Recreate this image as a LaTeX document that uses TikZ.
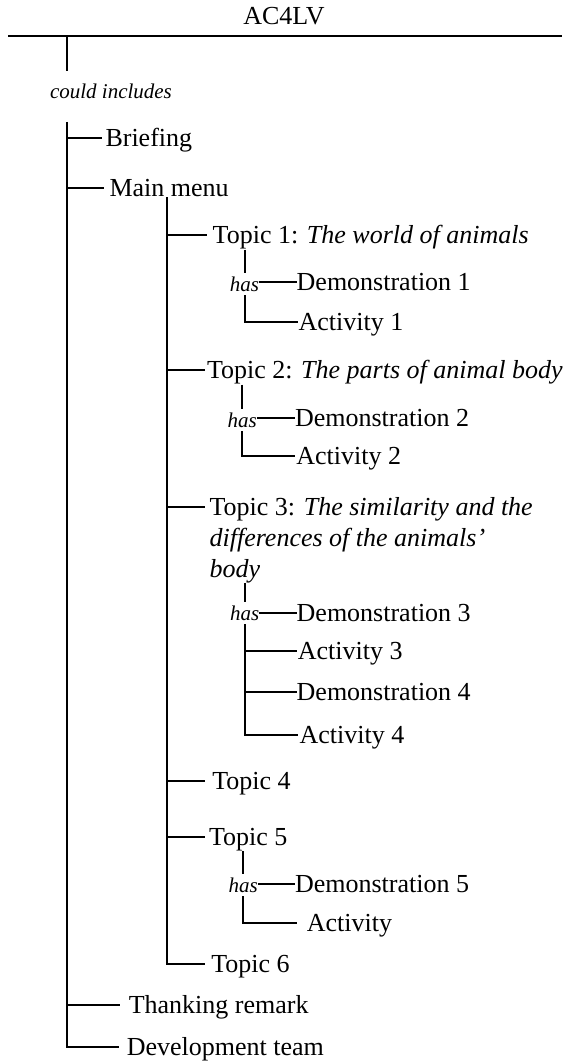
\documentclass[tikz,border=0pt]{standalone}
\usepackage{fontspec}
\setmainfont{Liberation Serif}
\begin{document}
\begin{tikzpicture}[x=1pt,y=-1pt,line width=2pt,
  every node/.style={inner sep=0pt,font=\fontsize{26}{30.7}\selectfont},
  entry/.style={anchor=west,text height=17pt,text depth=0pt,outer ysep=6pt,outer xsep=#1},
  entry/.default=0pt,
  hasrel/.style={font=\fontsize{21}{25}\selectfont\itshape,text height=14pt,text depth=0pt,outer ysep=4pt,outer xsep=0pt}]
\useasboundingbox (0,0) rectangle (569,1062);

% heading and rule
\node (title) [anchor=base] at (284,25) {AC4LV};
\coordinate (ruleL) at (8,36);
\coordinate (ruleR) at (562,36);
\draw (ruleL) -- (ruleR);
\coordinate (drop) at (67,36);
\coordinate (dropend) at (67,71);
\draw (drop) -- (dropend);
\node (could) [anchor=base west,font=\fontsize{21}{25}\selectfont\itshape] at (49,99) {could includes};

% first level
\coordinate (trunk) at (67,122);
\node (brief) [entry=3.5pt] at (102,138) {Briefing};
\node (menu)  [entry=5.5pt] at (104,188) {Main menu};
\node (thank) [entry=8.8pt] at (120,1005) {Thanking remark};
\node (devt)  [entry=7.5pt] at (119.3,1047.3) {Development team};
\draw (trunk) |- (devt.west);
\foreach \n in {brief,menu,thank} \draw (trunk |- \n.west) -- (\n.west);

% topics under the main menu
\coordinate (branch) at (167,197);
\node (t1) [entry=6pt] at (206.7,235) {Topic 1: \textit{The world of animals}};
\node (t2) [entry=2pt] at (205,370) {Topic 2: \textit{The parts of animal body}};
\node (t3) [anchor=north west,align=left,outer ysep=0pt,outer xsep=4.6pt] at (205,497.7)
  {Topic 3: \textit{The similarity and the}\\\textit{differences of the animals’}\\\textit{body}};
\path ([yshift=-9.3pt]t3.north west) coordinate (t3b);
\node (t4) [entry=7.3pt] at (205,780.7) {Topic 4};
\node (t5) [entry=4pt] at (205,836.7) {Topic 5};
\node (t6) [entry=6.3pt] at (205,964) {Topic 6};
\draw (branch) |- (t6.west);
\foreach \n in {t1,t2,t4,t5} \draw (branch |- \n.west) -- (\n.west);
\draw (branch |- t3b) -- (t3b);

% topic 1
\node (has1) [hasrel] at (244.5,284) {has};
\node (d1) [entry=0pt] at (296.7,281.7) {Demonstration 1};
\node (a1) [entry=0.3pt] at (298.3,321.7) {Activity 1};
\draw (has1.north |- t1.south) -- (has1.north);
\draw (has1.east |- d1.west) -- (d1.west);
\draw (has1.south) |- (a1.west);

% topic 2
\node (has2) [hasrel] at (242.3,420) {has};
\node (d2) [entry=0pt] at (295,418.3) {Demonstration 2};
\node (a2) [entry=1.3pt] at (295,456) {Activity 2};
\draw (has2.north |- t2.south) -- (has2.north);
\draw (has2.east |- d2.west) -- (d2.west);
\draw (has2.south) |- (a2.west);

% topic 3
\node (has3) [hasrel] at (244.6,613.3) {has};
\node (d3) [entry=0pt] at (296.7,613.3) {Demonstration 3};
\node (a3) [entry=1.2pt] at (296.7,650.7) {Activity 3};
\node (d4) [entry=0pt] at (296.7,691.7) {Demonstration 4};
\node (a4) [entry=1.6pt] at (298,735) {Activity 4};
\draw (has3.north |- t3.south) -- (has3.north);
\draw (has3.east |- d3.west) -- (d3.west);
\draw (has3.south) |- (a4.west);
\foreach \n in {a3,d4} \draw (has3.south |- \n.west) -- (\n.west);

% topic 5
\node (has5) [hasrel] at (243.3,885) {has};
\node (d5) [entry=0pt] at (295,884) {Demonstration 5};
\node (a5) [entry=10.2pt] at (296.7,922.7) {Activity};
\draw (has5.north |- t5.south) -- (has5.north);
\draw (has5.east |- d5.west) -- (d5.west);
\draw (has5.south) |- (a5.west);
\end{tikzpicture}
\end{document}
